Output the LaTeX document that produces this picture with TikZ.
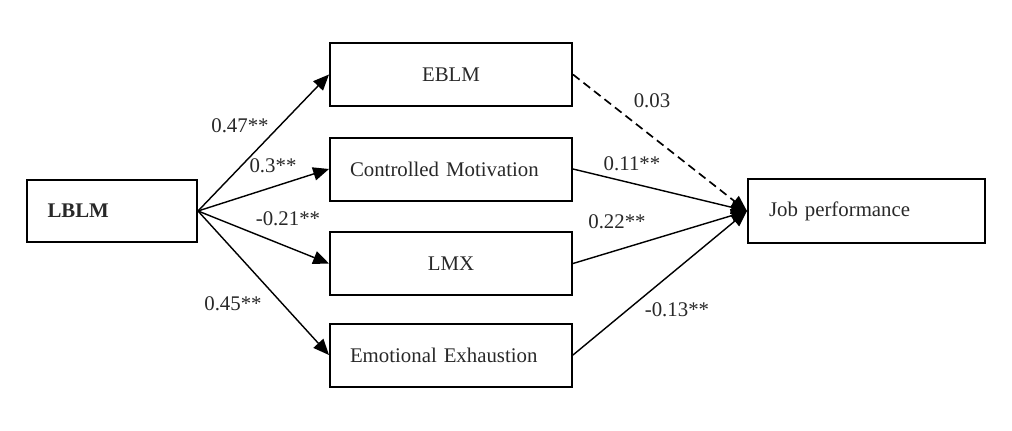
\documentclass[tikz,border=0pt]{standalone}
\usepackage{fontspec}
\setmainfont{Liberation Serif}
\usetikzlibrary{arrows.meta}
\definecolor{txt-grey}{RGB}{40,40,40}

\begin{document}
\begin{tikzpicture}[
  x=0.6pt, y=-0.6pt,
  box/.style={draw, line width=1.2pt, minimum height=37.8pt, inner ysep=0pt, text=txt-grey, font=\fontsize{12.5}{15}\selectfont},
  midbox/.style={box, text width=121.2pt, inner xsep=12pt, align=left},
  midcbox/.style={box, minimum width=145.2pt, align=center},
  coef/.style={text=txt-grey, font=\fontsize{12.5}{15}\selectfont, inner sep=0pt},
  arr/.style={-{Triangle[length=9.5pt, width=8pt]}, line width=0.85pt},
]
  \useasboundingbox (0,0) rectangle (1012,430);

  \node[box, text width=77.4pt, inner xsep=12.3pt, align=left, minimum height=37.2pt] (lblm) at (112,211) {\textbf{LBLM}};
  \node[midcbox] (eblm) at (451,74.5) {EBLM};
  \node[midbox] (ctrl) at (451,169) {Controlled Motivation};
  \node[midcbox] (lmx) at (451,263.5) {LMX};
  \node[midbox] (exh) at (451,355) {Emotional Exhaustion};
  \node[box, text width=117pt, inner xsep=12.6pt, align=left, minimum height=38.4pt] (job) at (866.5,211) {Job performance};

  % paths from LBLM
  \draw[arr] (lblm.east) -- (eblm.west);
  \draw[arr] (lblm.east) -- (ctrl.west);
  \draw[arr] (lblm.east) -- (lmx.west);
  \draw[arr] (lblm.east) -- (exh.west);

  % paths to job performance
  \draw[arr, line width=1pt, dash pattern=on 5pt off 3pt] (eblm.east) -- (job.west);
  \draw[arr] (ctrl.east) -- (job.west);
  \draw[arr] (lmx.east) -- (job.west);
  \draw[arr] (exh.east) -- (job.west);

  \node[coef] (c-eblm) at (240,126) {0.47**};
  \node[coef] (c-ctrl) at (273,166) {0.3**};
  \node[coef] (c-lmx) at (288,219) {-0.21**};
  \node[coef] (c-exh) at (233,304) {0.45**};
  \node[coef] (d-eblm) at (652,101) {0.03};
  \node[coef] (d-ctrl) at (632,164) {0.11**};
  \node[coef] (d-lmx) at (617,222) {0.22**};
  \node[coef] (d-exh) at (677,310) {-0.13**};
\end{tikzpicture}
\end{document}
